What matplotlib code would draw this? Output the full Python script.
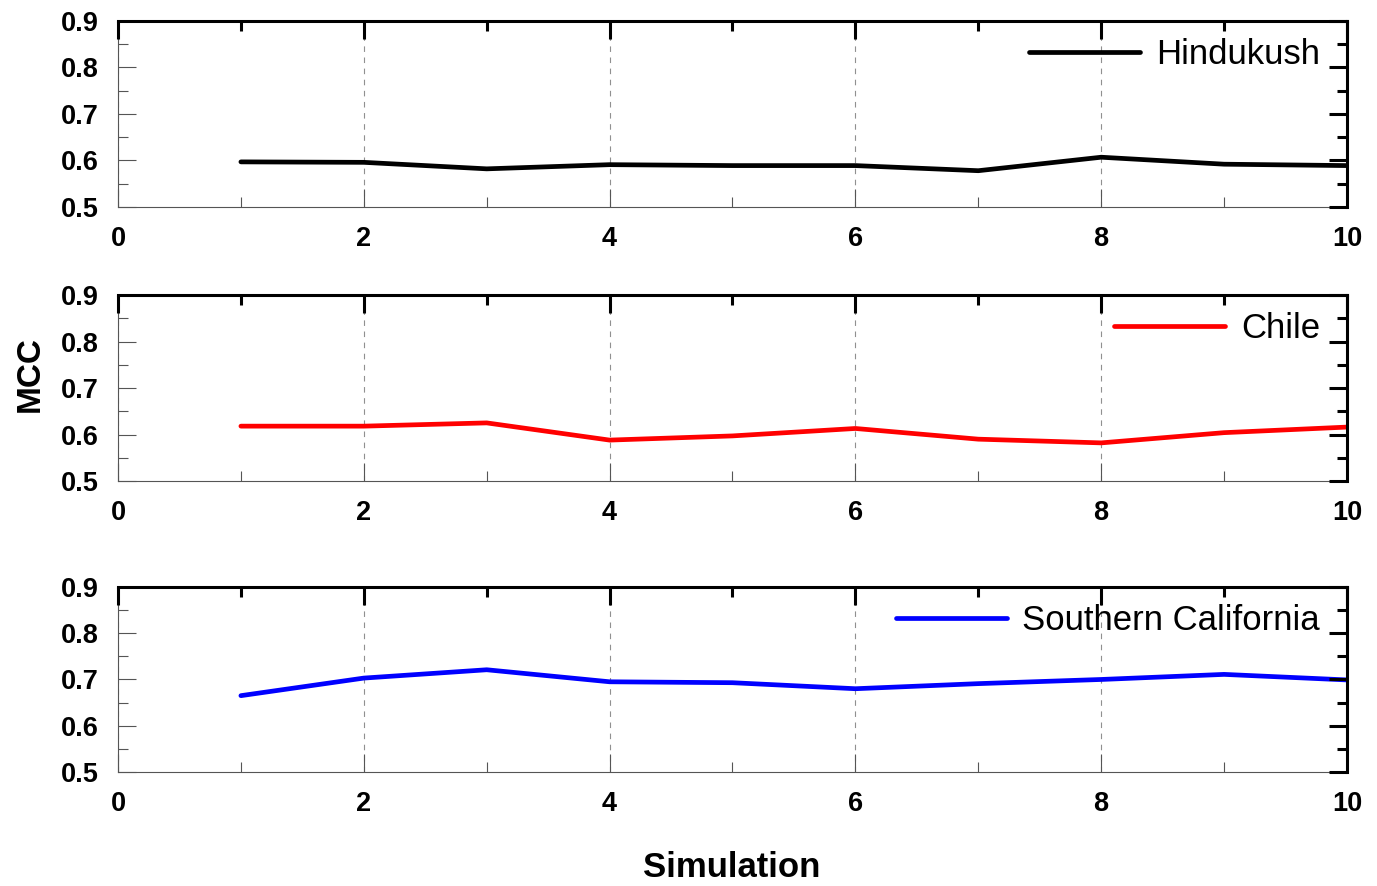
import numpy as np
import matplotlib
matplotlib.use("Agg")
import matplotlib.pyplot as plt
from matplotlib.ticker import MultipleLocator

plt.rcParams['font.family'] = 'Liberation Sans'
plt.rcParams['font.weight'] = 'bold'

sims = [1, 2, 3, 4, 5, 6, 7, 8, 9, 10]
hindukush = [0.597, 0.596, 0.582, 0.591, 0.589, 0.589, 0.578, 0.607, 0.592, 0.589]
chile = [0.618, 0.618, 0.625, 0.588, 0.597, 0.613, 0.590, 0.582, 0.604, 0.616]
socal = [0.665, 0.703, 0.721, 0.695, 0.693, 0.680, 0.691, 0.700, 0.711, 0.699]

regions = ["Hindukush", "Chile", "Southern California"]
series = [hindukush, chile, socal]
colors = ["black", "red", "blue"]

rects = [[0.0857, 0.7664, 0.8925, 0.2099],
         [0.0857, 0.4571, 0.8925, 0.2099],
         [0.0857, 0.1287, 0.8925, 0.2088]]

fig = plt.figure(figsize=(13.77, 8.86), dpi=100)

for rect, name, vals, c in zip(rects, regions, series, colors):
    ax = fig.add_axes(rect)
    ax.plot(sims, vals, color=c, lw=3.4, label=name, solid_capstyle='round')
    ax.set_xlim(0, 10)
    ax.set_ylim(0.5, 0.9)
    ax.xaxis.set_major_locator(MultipleLocator(2))
    ax.xaxis.set_minor_locator(MultipleLocator(1))
    ax.yaxis.set_major_locator(MultipleLocator(0.1))
    ax.yaxis.set_minor_locator(MultipleLocator(0.05))
    ax.yaxis.set_major_formatter(plt.FormatStrFormatter('%.1f'))
    ax.spines['top'].set_visible(False)
    ax.spines['right'].set_visible(False)
    for s in ['left', 'bottom']:
        ax.spines[s].set_color('#555555')
        ax.spines[s].set_linewidth(0.8)
    ax.tick_params(which='both', direction='in', top=False, right=False,
                   color='#555555', width=0.8)
    ax.tick_params(which='major', length=13)
    ax.tick_params(which='minor', length=7)
    ax.tick_params(axis='y', pad=14, labelsize=19.5)
    ax.tick_params(axis='x', pad=14, labelsize=19.5)
    ax.grid(axis='x', which='major', ls=(0, (5, 5)), color='#909090', lw=0.8)
    ax.legend(loc='upper right', bbox_to_anchor=(0.9837, 0.945), borderaxespad=0,
              borderpad=0.2, frameon=False, handlelength=3.2, handletextpad=0.45,
              prop={'size': 25, 'weight': 'normal'})

    # thick black frame on top/right with its own inward ticks
    ov = fig.add_axes(rect, sharex=ax, sharey=ax)
    ov.patch.set_visible(False)
    ov.spines['left'].set_visible(False)
    ov.spines['bottom'].set_visible(False)
    for s in ['top', 'right']:
        ov.spines[s].set_color('black')
        ov.spines[s].set_linewidth(2.2)
    ov.tick_params(which='both', direction='in', left=False, bottom=False,
                   top=True, right=True, labelleft=False, labelbottom=False,
                   color='black', width=2.2)
    ov.tick_params(which='major', length=13)
    ov.tick_params(which='minor', length=7)

fig.text(0.022, 0.578, 'MCC', rotation=90, fontsize=24, fontweight='bold',
         ha='center', va='center')
fig.text(0.5316, 0.021, 'Simulation', fontsize=25, fontweight='bold',
         ha='center', va='center')

plt.savefig('out.png', dpi=100)
plt.close()
